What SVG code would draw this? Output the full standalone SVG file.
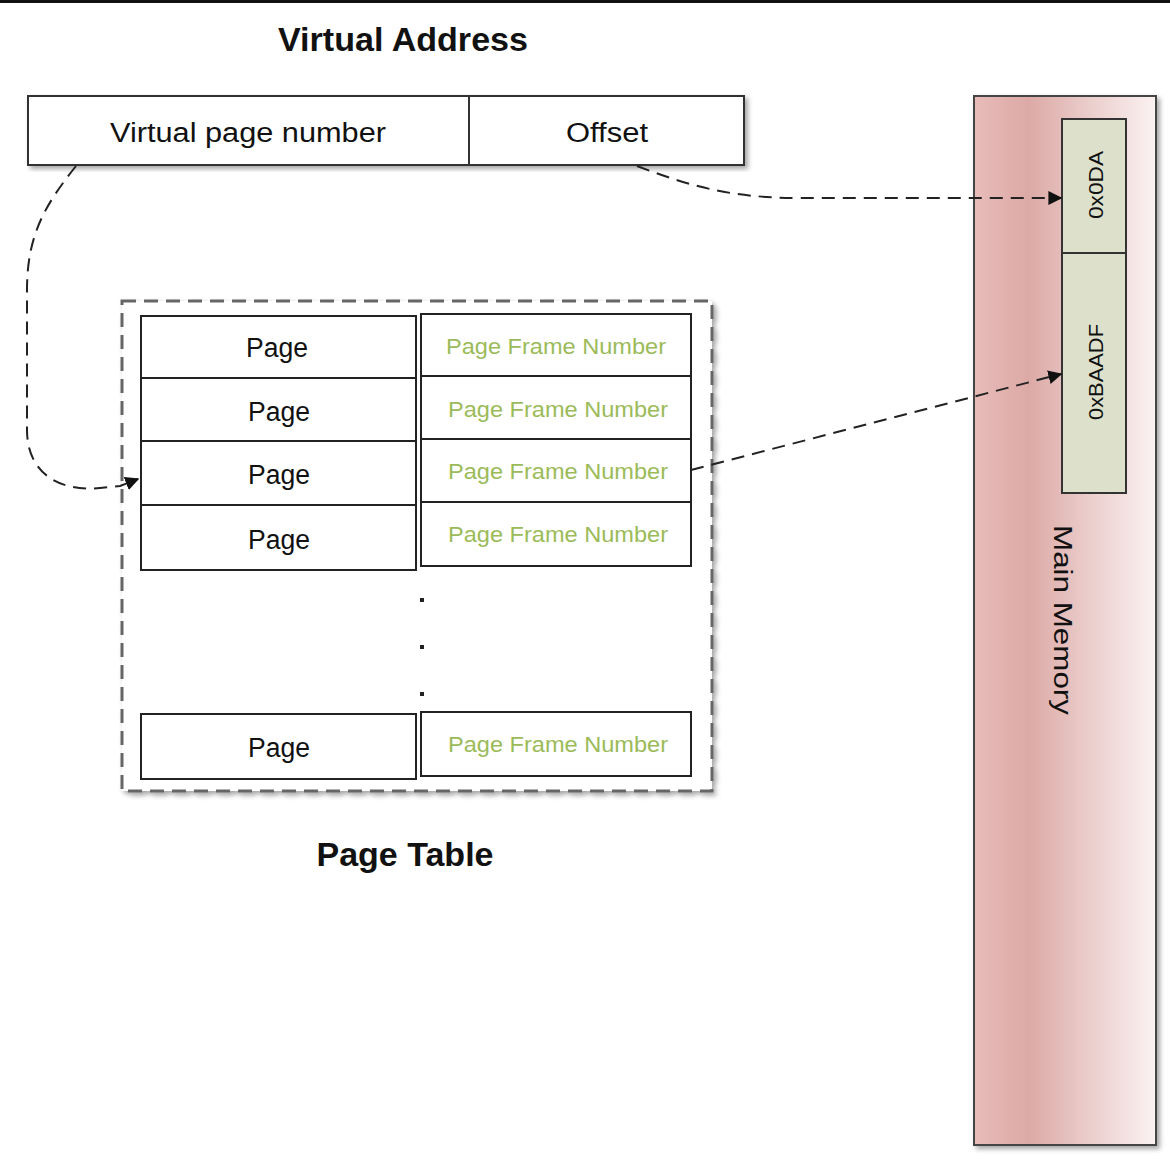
<svg xmlns="http://www.w3.org/2000/svg" width="1170" height="1171" viewBox="0 0 1170 1171">
<style>
.t{font-family:"Liberation Sans",Arial,sans-serif;fill:#111}
.title{font-size:33px;font-weight:bold;text-anchor:middle}
.cell{fill:#fff;stroke:#222;stroke-width:2}
.lbl{font-size:27px;text-anchor:middle}
.pfn{font-size:22px;text-anchor:middle;fill:#9bbb59}
.mem{fill:#dde1cc;stroke:#333;stroke-width:2}
.conn{fill:none;stroke:#222;stroke-width:2;stroke-dasharray:13 8}
</style>
<defs>
<marker id="arr" viewBox="0 0 10 10" refX="9" refY="5" markerWidth="14" markerHeight="14" markerUnits="userSpaceOnUse" orient="auto">
<path d="M0,0 L10,5 L0,10 z" fill="#111"/>
</marker>
<linearGradient id="memgrad" x1="0" y1="0" x2="1" y2="0">
<stop offset="0" stop-color="#e8bcb9"/>
<stop offset="0.3" stop-color="#dca9a6"/>
<stop offset="0.65" stop-color="#ebcfcd"/>
<stop offset="1" stop-color="#fbf2f2"/>
</linearGradient>
<filter id="sh" x="-5%" y="-5%" width="115%" height="115%">
<feDropShadow dx="3" dy="3" stdDeviation="2.5" flood-color="#000" flood-opacity="0.35"/>
</filter>
</defs>
<rect x="0" y="0" width="1170" height="1171" fill="#fff"/>
<rect x="0" y="0" width="1170" height="3" fill="#111"/>

<g id="title-va">
<text class="t title" x="403" y="51" textLength="250" lengthAdjust="spacingAndGlyphs">Virtual Address</text>
</g>

<g id="virtual-address">
<rect x="28" y="96" width="716" height="69" fill="#fff" stroke="#333" stroke-width="2" filter="url(#sh)"/>
<line x1="469" y1="96" x2="469" y2="165" stroke="#333" stroke-width="2"/>
<text class="t lbl" x="248" y="142" textLength="276" lengthAdjust="spacingAndGlyphs">Virtual page number</text>
<text class="t lbl" x="607" y="142" textLength="82" lengthAdjust="spacingAndGlyphs">Offset</text>
</g>

<g id="page-table">
<rect x="122" y="301" width="590" height="490" fill="#fff" stroke="#666" stroke-width="3" stroke-dasharray="14 8" filter="url(#sh)"/>
<g id="row1">
<rect class="cell" x="141" y="316" width="275" height="62"/>
<text class="t lbl" x="277" y="357" textLength="62" lengthAdjust="spacingAndGlyphs">Page</text>
<rect class="cell" x="421" y="314" width="270" height="62"/>
<text class="t pfn" x="556" y="354" textLength="220" lengthAdjust="spacingAndGlyphs">Page Frame Number</text>
</g>
<g id="row2">
<rect class="cell" x="141" y="378" width="275" height="63"/>
<text class="t lbl" x="279" y="421" textLength="62" lengthAdjust="spacingAndGlyphs">Page</text>
<rect class="cell" x="421" y="376" width="270" height="63"/>
<text class="t pfn" x="558" y="417" textLength="220" lengthAdjust="spacingAndGlyphs">Page Frame Number</text>
</g>
<g id="row3">
<rect class="cell" x="141" y="441" width="275" height="64"/>
<text class="t lbl" x="279" y="484" textLength="62" lengthAdjust="spacingAndGlyphs">Page</text>
<rect class="cell" x="421" y="439" width="270" height="63"/>
<text class="t pfn" x="558" y="479" textLength="220" lengthAdjust="spacingAndGlyphs">Page Frame Number</text>
</g>
<g id="row4">
<rect class="cell" x="141" y="505" width="275" height="65"/>
<text class="t lbl" x="279" y="549" textLength="62" lengthAdjust="spacingAndGlyphs">Page</text>
<rect class="cell" x="421" y="502" width="270" height="64"/>
<text class="t pfn" x="558" y="542" textLength="220" lengthAdjust="spacingAndGlyphs">Page Frame Number</text>
</g>
<g id="dots" fill="#222">
<rect x="420" y="598" width="4" height="4"/>
<rect x="420" y="645" width="4" height="4"/>
<rect x="420" y="692" width="4" height="4"/>
</g>
<g id="row-last">
<rect class="cell" x="141" y="714" width="275" height="65"/>
<text class="t lbl" x="279" y="757" textLength="62" lengthAdjust="spacingAndGlyphs">Page</text>
<rect class="cell" x="421" y="712" width="270" height="64"/>
<text class="t pfn" x="558" y="752" textLength="220" lengthAdjust="spacingAndGlyphs">Page Frame Number</text>
</g>
</g>

<g id="title-pt">
<text class="t title" x="405" y="866" font-size="31" textLength="177" lengthAdjust="spacingAndGlyphs">Page Table</text>
</g>

<g id="main-memory">
<rect x="974" y="96" width="182" height="1049" fill="url(#memgrad)" stroke="#444" stroke-width="2" filter="url(#sh)"/>
<text class="t" font-size="26" text-anchor="middle" transform="translate(1054,620) rotate(90)" textLength="190" lengthAdjust="spacingAndGlyphs">Main Memory</text>
</g>

<g id="mem-0x0DA">
<rect class="mem" x="1062" y="119" width="64" height="134"/>
<text class="t" font-size="20" text-anchor="middle" transform="translate(1103,185) rotate(-90)" textLength="68" lengthAdjust="spacingAndGlyphs">0x0DA</text>
</g>
<g id="mem-0xBAADF">
<rect class="mem" x="1062" y="253" width="64" height="240"/>
<text class="t" font-size="20" text-anchor="middle" transform="translate(1103,372) rotate(-90)" textLength="96" lengthAdjust="spacingAndGlyphs">0xBAADF</text>
</g>

<g id="connectors">
<path class="conn" d="M637,166 C690,186 730,198 800,198 L1061,198" marker-end="url(#arr)"/>
<path class="conn" d="M691,470 L1061,374" marker-end="url(#arr)"/>
<path class="conn" d="M76,166 C45,205 27,235 27,290 L27,430 C27,470 55,492 100,488 L120,486 L138,479" marker-end="url(#arr)"/>
</g>
</svg>
